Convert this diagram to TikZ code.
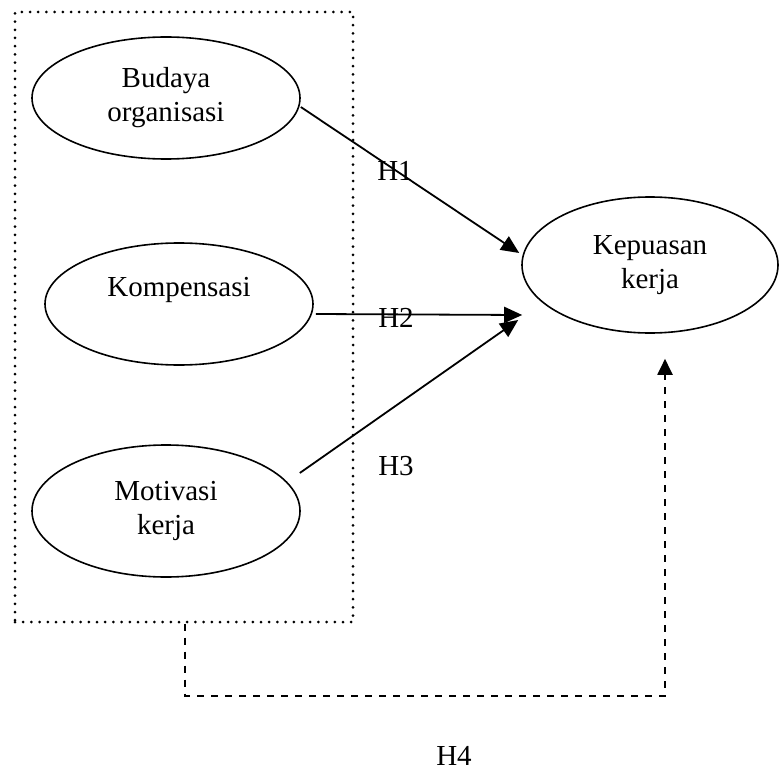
\documentclass[tikz,border=0pt]{standalone}
\usepackage{fontspec}
\setmainfont{Liberation Serif}
\usetikzlibrary{shapes.geometric,arrows.meta,calc}
\begin{document}
\begin{tikzpicture}[x=1pt,y=-1pt,
  every node/.style={font=\fontsize{29}{34}\selectfont},
  var/.style={ellipse, draw, line width=1.6pt, inner sep=0pt, align=center},
  grpbox/.style={draw, line width=3pt, dash pattern=on 0pt off 8.2pt, line cap=round, inner sep=0pt},
  arr/.style={line width=1.8pt, -{Triangle[length=18pt,width=16pt]}},
  darr/.style={line width=2pt, dash pattern=on 7pt off 7pt, -{Triangle[length=16pt,width=15pt]}},
  lbl/.style={inner sep=0pt}]
\useasboundingbox (0,0) rectangle (779,773);
% group box
\node[grpbox, minimum width=338pt, minimum height=610pt] (grp) at (184,317) {};
% variables
\node[var, minimum width=268pt, minimum height=122pt] (bud) at (166,98) {Budaya\\organisasi};
\node[var, minimum width=268pt, minimum height=122pt] (kom) at (179,304) {Kompensasi\\\phantom{x}};
\node[var, minimum width=268pt, minimum height=132pt] (mot) at (166,511) {Motivasi\\kerja};
\node[var, minimum width=256pt, minimum height=136pt] (kep) at (650,265) {Kepuasan\\kerja};
% arrows
\draw[arr] ($(bud.east)+(0,9)$) -- ($(kep.west)+(-2,-12)$);
\draw[arr] ($(kom.east)+(2,10)$) -- ($(kep.west)+(1,50)$);
\draw[arr] ($(mot.east)+(-1,-38)$) -- ($(kep.west)+(-3,55)$);
\draw[darr] ($(grp.south)+(1,0)$) -- ++(0,72) -| ($(kep.south)+(15,25)$);
% labels
\node[lbl] (h1) at (395,171) {H1};
\node[lbl] (h2) at (396,318) {H2};
\node[lbl] (h3) at (396,466) {H3};
\node[lbl] (h4) at (454,756) {H4};
\end{tikzpicture}
\end{document}
